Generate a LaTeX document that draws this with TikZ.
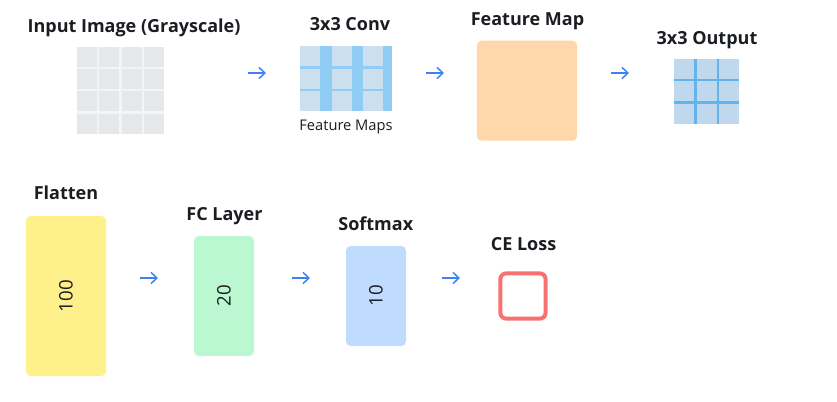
\documentclass[tikz,border=0pt]{standalone}
\usepackage{fontspec}
\setmainfont{Open Sans}
\usetikzlibrary{arrows.meta}
\definecolor{txt}{HTML}{1A1D21}
\definecolor{arr}{HTML}{3B82F6}
\definecolor{gcell}{HTML}{E5E7EB}
\definecolor{ggap}{HTML}{F3F4F6}
\definecolor{cstripe}{HTML}{90CDF4}
\definecolor{ccell}{HTML}{CCDFEE}
\definecolor{ofill}{HTML}{C0D8EE}
\definecolor{oline}{HTML}{63B3ED}
\definecolor{orangef}{HTML}{FED7AA}
\definecolor{yellowf}{HTML}{FEF08A}
\definecolor{greenf}{HTML}{BBF7D0}
\definecolor{bluef}{HTML}{BFDBFE}
\definecolor{redl}{HTML}{F87171}
\tikzset{
  title/.style={anchor=base, text=txt, font=\bfseries\fontsize{13.5pt}{15pt}\selectfont, inner sep=0pt},
  subtitle/.style={anchor=base, text=txt, font=\fontsize{11pt}{13pt}\selectfont, inner sep=0pt},
  layerbox/.style={draw=none, rounded corners=3.5pt, inner sep=0pt},
  numlabel/.style={text=txt, font=\fontsize{14pt}{16pt}\selectfont, rotate=90, inner sep=0pt},
  flow/.style={draw=arr, line width=1.1pt, -{Straight Barb[length=4.5pt,width=8.5pt,line width=1.1pt]}},
  gridbox/.style={draw=none, fill=none, inner sep=0pt},
}
\begin{document}
\begin{tikzpicture}[x=0.75pt,y=-0.75pt]
\useasboundingbox (0,0) rectangle (837,402);
% ---------- Row 1 ----------
\node[title] (t1) at (134,32.5) {Input Image (Grayscale)};
\node[gridbox, minimum width=65.5pt, minimum height=65.5pt] (inp) at (120.35,90.35) {};
\fill[ggap] (76.7,46.7) rectangle (164,134);
\foreach \i in {0,1,2,3}{
  \foreach \j in {0,1,2,3}{
    \fill[gcell] ({76.7+\i*22.4},{46.7+\j*22.4}) rectangle ++(20,20);
  }
}
\node[title] (t2) at (350,30.5) {3x3 Conv};
\node[gridbox, minimum width=69pt, minimum height=48.75pt] (conv) at (346,78.5) {};
\fill[cstripe] (300,46) rectangle (392,111);
\foreach \i in {0,1,2}{
  \foreach \y in {46,69,91}{
    \fill[ccell] ({300+\i*31.5},\y) rectangle ++(20,20);
  }
}
\node[subtitle] (t2b) at (346,130.5) {Feature Maps};
\node[title] (t3) at (527.5,25.5) {Feature Map};
\node[layerbox, fill=orangef, minimum width=75.3pt, minimum height=75pt] (fmap) at (527,90.7) {};
\node[title] (t4) at (707,44.3) {3x3 Output};
\node[gridbox, fill=ofill, minimum width=48.75pt, minimum height=48.75pt] (outg) at (706.5,91.5) {};
\draw[oline, line width=1.9pt] (695.5,59) -- (695.5,124) (718,59) -- (718,124)
  (674,80) -- (739,80) (674,102.5) -- (739,102.5);
% arrows row 1
\coordinate (a1s) at (248,73); \coordinate (a1e) at (266,73);
\coordinate (a2s) at (426,73); \coordinate (a2e) at (444,73);
\coordinate (a3s) at (611,73); \coordinate (a3e) at (629,73);
\draw[flow] (a1s) -- (a1e);
\draw[flow] (a2s) -- (a2e);
\draw[flow] (a3s) -- (a3e);
% ---------- Row 2 ----------
\node[title] (t5) at (66,200) {Flatten};
\node[layerbox, fill=yellowf, minimum width=60pt, minimum height=120pt] (flat) at (66,296) {};
\node[numlabel] (n1) at (flat.center) {100};
\node[title] (t6) at (224.5,220.7) {FC Layer};
\node[layerbox, fill=greenf, minimum width=45pt, minimum height=90pt] (fc) at (224,296) {};
\node[numlabel] (n2) at (fc.center) {20};
\node[title] (t7) at (375.8,230.7) {Softmax};
\node[layerbox, fill=bluef, minimum width=45pt, minimum height=75pt] (soft) at (376,296) {};
\node[numlabel] (n3) at (soft.center) {10};
\node[title] (t8) at (523.5,251) {CE Loss};
\node[draw=redl, line width=3pt, rounded corners=4.5pt, minimum width=34pt, minimum height=34pt, inner sep=0pt] (loss) at (523,296) {};
\coordinate (a4s) at (140,278); \coordinate (a4e) at (158,278);
\coordinate (a5s) at (292,278); \coordinate (a5e) at (310,278);
\coordinate (a6s) at (442,278); \coordinate (a6e) at (460,278);
\draw[flow] (a4s) -- (a4e);
\draw[flow] (a5s) -- (a5e);
\draw[flow] (a6s) -- (a6e);
\end{tikzpicture}
\end{document}
